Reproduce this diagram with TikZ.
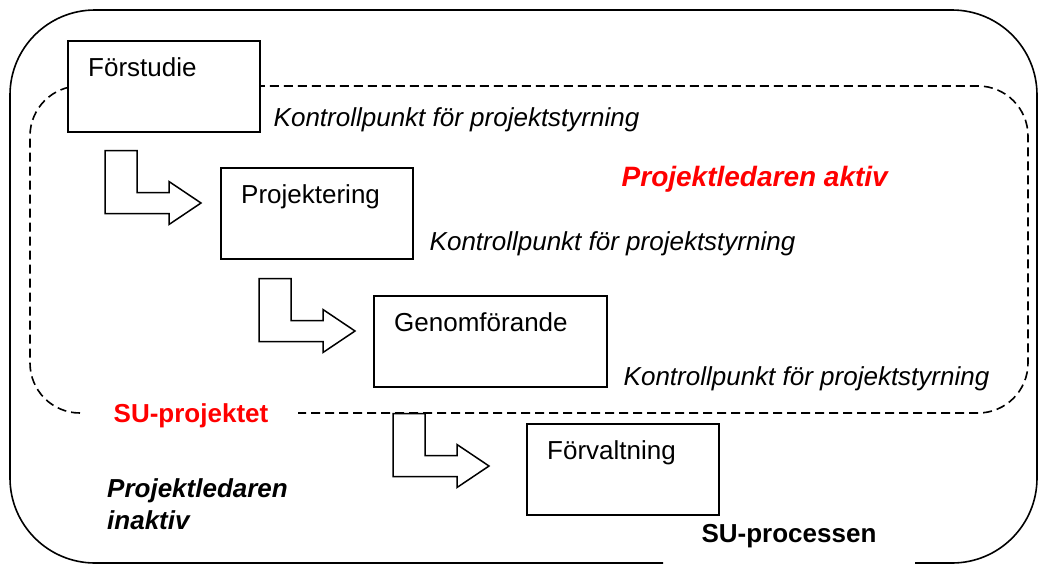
\documentclass[tikz,border=0pt]{standalone}
\usepackage{fontspec}
\setmainfont{Liberation Sans}
\begin{document}
\begin{tikzpicture}[x=1pt, y=-1pt]
    % Define styles
    \tikzset{
        phase/.style={
            draw,
            fill=white,
            line width=1.5pt,
            minimum width=192pt,
            minimum height=91pt,
            inner sep=0pt,
            anchor=north west
        },
        phasename/.style={
            anchor=north west,
            inner sep=0pt,
            xshift=21pt,
            yshift=-17pt,
            font=\fontsize{26}{31}\selectfont
        },
        checkpoint/.style={
            anchor=base west,
            inner sep=0pt,
            font=\itshape\fontsize{26}{31}\selectfont
        },
        bigframe/.style={
            line width=1.6pt,
            rounded corners=85pt
        },
        projframe/.style={
            line width=1.6pt,
            dash pattern=on 9pt off 5pt,
            rounded corners=50pt
        },
        blockarrow/.style={
            draw,
            fill=white,
            line width=1.5pt,
            line join=miter
        },
        bentarrow/.pic={
            \draw[blockarrow] (0,0) -- (32,0) -- (32,42) -- (64,42) -- (64,31) -- (96,52.5) -- (64,74) -- (64,63) -- (0,63) -- cycle;
        }
    }

    \useasboundingbox (0,0) rectangle (1039,574);

    % SU-processen frame
    \draw[bigframe] (663,563) -- (10,563) -- (10,10) -- (1037,10) -- (1037,563) -- (915,563);
    \node[anchor=base, inner sep=0pt, font=\bfseries\fontsize{26}{31}\selectfont] (processen) at (789,542) {SU-processen};

    % SU-projektet frame
    \draw[projframe] (80,413) -- (30,413) -- (30,86) -- (1028,86) -- (1028,413) -- (298,413);
    \node[anchor=base, inner sep=0pt, text=red, font=\bfseries\fontsize{26}{31}\selectfont] (projektet) at (191,422) {SU-projektet};

    % Phases
    \node[phase, label={[phasename]north west:Förstudie}] (forstudie) at (67,40) {};
    \node[phase, label={[phasename]north west:Projektering}] (projektering) at (220,167) {};
    \node[phase, minimum width=233pt, label={[phasename]north west:Genomförande}] (genomforande) at (373,295) {};
    \node[phase, label={[phasename]north west:Förvaltning}] (forvaltning) at (526,423) {};

    % Steps between phases
    \pic at ([xshift=38pt, yshift=-18pt]forstudie.south west) {bentarrow};
    \pic at ([xshift=39pt, yshift=-19pt]projektering.south west) {bentarrow};
    \pic at ([xshift=20pt, yshift=-26pt]genomforande.south west) {bentarrow};

    % Checkpoints
    \node[checkpoint] (kp1) at ([xshift=13pt, yshift=6pt]forstudie.south east) {Kontrollpunkt för projektstyrning};
    \node[checkpoint] (kp2) at ([xshift=16pt, yshift=9pt]projektering.south east) {Kontrollpunkt för projektstyrning};
    \node[checkpoint] (kp3) at ([xshift=16pt, yshift=2pt]genomforande.south east) {Kontrollpunkt för projektstyrning};

    % Project leader
    \node[anchor=base east, inner sep=0pt, text=red, font=\bfseries\itshape\fontsize{28}{33}\selectfont] (aktiv) at (888,186) {Projektledaren aktiv};
    \node[anchor=north west, inner sep=0pt, align=left, font=\bfseries\itshape\fontsize{26}{32}\selectfont] (inaktiv) at (107,478) {Projektledaren\\inaktiv};

\end{tikzpicture}
\end{document}
